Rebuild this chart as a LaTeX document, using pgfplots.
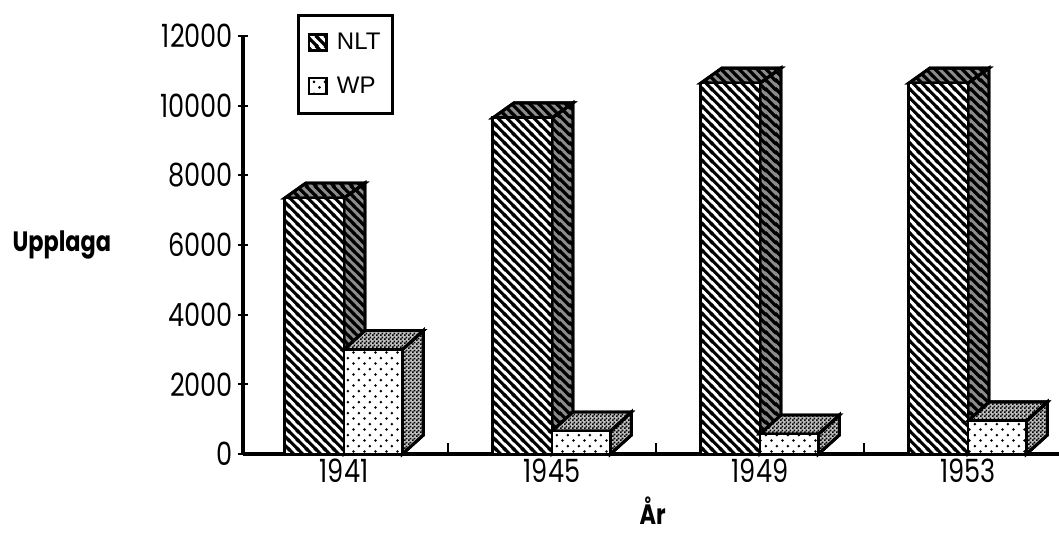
\documentclass[border=0pt]{standalone}
\usepackage{fontspec}
\setmainfont[FakeStretch=0.8]{Poppins}
\newfontfamily\lblfont[FakeStretch=0.8]{Poppins}
\newfontfamily\legfont{Liberation Sans}
\usepackage{pgfplots}
\pgfplotsset{compat=1.18}
\usetikzlibrary{patterns}
\pgfdeclarepatternformonly{nlt}{\pgfpointorigin}{\pgfqpoint{7pt}{7pt}}{\pgfqpoint{7pt}{7pt}}{
  \pgfsetlinewidth{2.5pt}
  \pgfpathmoveto{\pgfqpoint{-1pt}{8pt}}\pgfpathlineto{\pgfqpoint{8pt}{-1pt}}
  \pgfpathmoveto{\pgfqpoint{-1pt}{1pt}}\pgfpathlineto{\pgfqpoint{1pt}{-1pt}}
  \pgfpathmoveto{\pgfqpoint{6pt}{8pt}}\pgfpathlineto{\pgfqpoint{8pt}{6pt}}
  \pgfusepath{stroke}}
\pgfdeclarepatternformonly{wp}{\pgfpointorigin}{\pgfqpoint{8.5pt}{8.5pt}}{\pgfqpoint{8.5pt}{8.5pt}}{
  \pgfpathcircle{\pgfqpoint{2pt}{2pt}}{1.15pt}
  \pgfpathcircle{\pgfqpoint{6.25pt}{6.25pt}}{1.15pt}
  \pgfusepath{fill}}
\pgfdeclarepatternformonly{dither}{\pgfpointorigin}{\pgfqpoint{3pt}{3pt}}{\pgfqpoint{3pt}{3pt}}{
  \pgfpathrectangle{\pgfqpoint{0pt}{0pt}}{\pgfqpoint{1.5pt}{1.5pt}}
  \pgfpathrectangle{\pgfqpoint{1.5pt}{1.5pt}}{\pgfqpoint{1.5pt}{1.5pt}}
  \pgfusepath{fill}}
\pgfplotsset{
  frontN/.style={draw=black,line width=2.2pt,preaction={fill=white},pattern=nlt,pattern color=black},
  frontW/.style={draw=black,line width=2.2pt,preaction={fill=white},pattern=wp,pattern color=black},
  sideN/.style={draw=black,line width=2.2pt,preaction={fill=black!45},pattern=nlt,pattern color=black},
  sideW/.style={draw=black,line width=2.2pt,preaction={fill=black!25},pattern=dither,pattern color=black},
}
\begin{document}
\begin{tikzpicture}
\path[use as bounding box] (0,0) rectangle (794.25pt,399pt);
\begin{axis}[
  at={(182.25pt,58.5pt)}, anchor=south west,
  scale only axis, width=612pt, height=313.5pt,
  xmin=-0.4856, xmax=3.4375, ymin=0, ymax=12000,
  axis lines=left, axis line style={-,line width=2.4pt},
  clip=false,
  major tick length=8pt,
  xtick={0.5,1.5,2.5}, xticklabels={},
  extra x ticks={0,1,2,3},
  extra x tick labels={1941,1945,1949,1953},
  extra x tick style={major tick length=0pt},
  ytick={0,2000,...,12000},
  scaled y ticks=false,
  x tick style={black,line width=1.6pt},
  y tick style={black,line width=1.6pt},
  xtick align=inside, ytick align=center,
  tick label style={font=\fontsize{24}{25}\selectfont},
  /pgf/number format/1000 sep={},
  /pgf/number format/assume math mode=true,
  xlabel={\lblfont\bfseries År}, xlabel style={at={(axis description cs:0.502,-0.135)},anchor=center,font=\fontsize{21}{22}\selectfont},
  ylabel={\lblfont\bfseries Upplaga}, ylabel style={at={(axis description cs:-0.222,0.5)},anchor=center,rotate=-90,font=\fontsize{21}{22}\selectfont},
  legend style={at={(0.066,1.0526)},anchor=north west,draw=black,line width=2.2pt,
    font=\legfont\fontsize{18}{20}\selectfont,inner xsep=7pt,inner ysep=11.5pt,
    row sep=14.5pt},
  legend cell align=left,
]
\addlegendimage{legend image code/.code={\draw[black,line width=2pt,pattern=nlt] (0pt,-6pt) rectangle (13pt,6pt); \path[draw=none,fill=none] (0pt,0pt) -- (19pt,0pt);}}
\addlegendimage{legend image code/.code={\draw[black,line width=2pt,pattern=wp] (0pt,-6pt) rectangle (13pt,6pt); \path[draw=none,fill=none] (0pt,0pt) -- (19pt,0pt);}}
% NLT sides and tops
\addplot[sideN] coordinates {(0,0)(0.101,430)(0.101,7780)(0,7350)} --cycle;
\addplot[sideN] coordinates {(-0.284,7350)(-0.183,7780)(0.101,7780)(0,7350)} --cycle;
\addplot[sideN] coordinates {(1,0)(1.101,430)(1.101,10080)(1,9650)} --cycle;
\addplot[sideN] coordinates {(0.716,9650)(0.817,10080)(1.101,10080)(1,9650)} --cycle;
\addplot[sideN] coordinates {(2,0)(2.101,430)(2.101,11080)(2,10650)} --cycle;
\addplot[sideN] coordinates {(1.716,10650)(1.817,11080)(2.101,11080)(2,10650)} --cycle;
\addplot[sideN] coordinates {(3,0)(3.101,430)(3.101,11080)(3,10650)} --cycle;
\addplot[sideN] coordinates {(2.716,10650)(2.817,11080)(3.101,11080)(3,10650)} --cycle;
% NLT fronts
\addplot[ybar,bar width=0.284,bar shift=-0.142,frontN] coordinates {(0,7350)(1,9650)(2,10650)(3,10650)};
% WP sides and tops
\addplot[sideW] coordinates {(0.281,0)(0.382,545)(0.382,3545)(0.281,3000)} --cycle;
\addplot[sideW] coordinates {(0,3000)(0.101,3545)(0.382,3545)(0.281,3000)} --cycle;
\addplot[sideW] coordinates {(1.281,0)(1.382,545)(1.382,1205)(1.281,660)} --cycle;
\addplot[sideW] coordinates {(1,660)(1.101,1205)(1.382,1205)(1.281,660)} --cycle;
\addplot[sideW] coordinates {(2.281,0)(2.382,545)(2.382,1120)(2.281,575)} --cycle;
\addplot[sideW] coordinates {(2,575)(2.101,1120)(2.382,1120)(2.281,575)} --cycle;
\addplot[sideW] coordinates {(3.281,0)(3.382,545)(3.382,1495)(3.281,950)} --cycle;
\addplot[sideW] coordinates {(3,950)(3.101,1495)(3.382,1495)(3.281,950)} --cycle;
% WP fronts
\addplot[ybar,bar width=0.281,bar shift=0.1405,frontW] coordinates {(0,3000)(1,660)(2,575)(3,950)};
\legend{NLT,WP}
\end{axis}
\end{tikzpicture}
\end{document}
